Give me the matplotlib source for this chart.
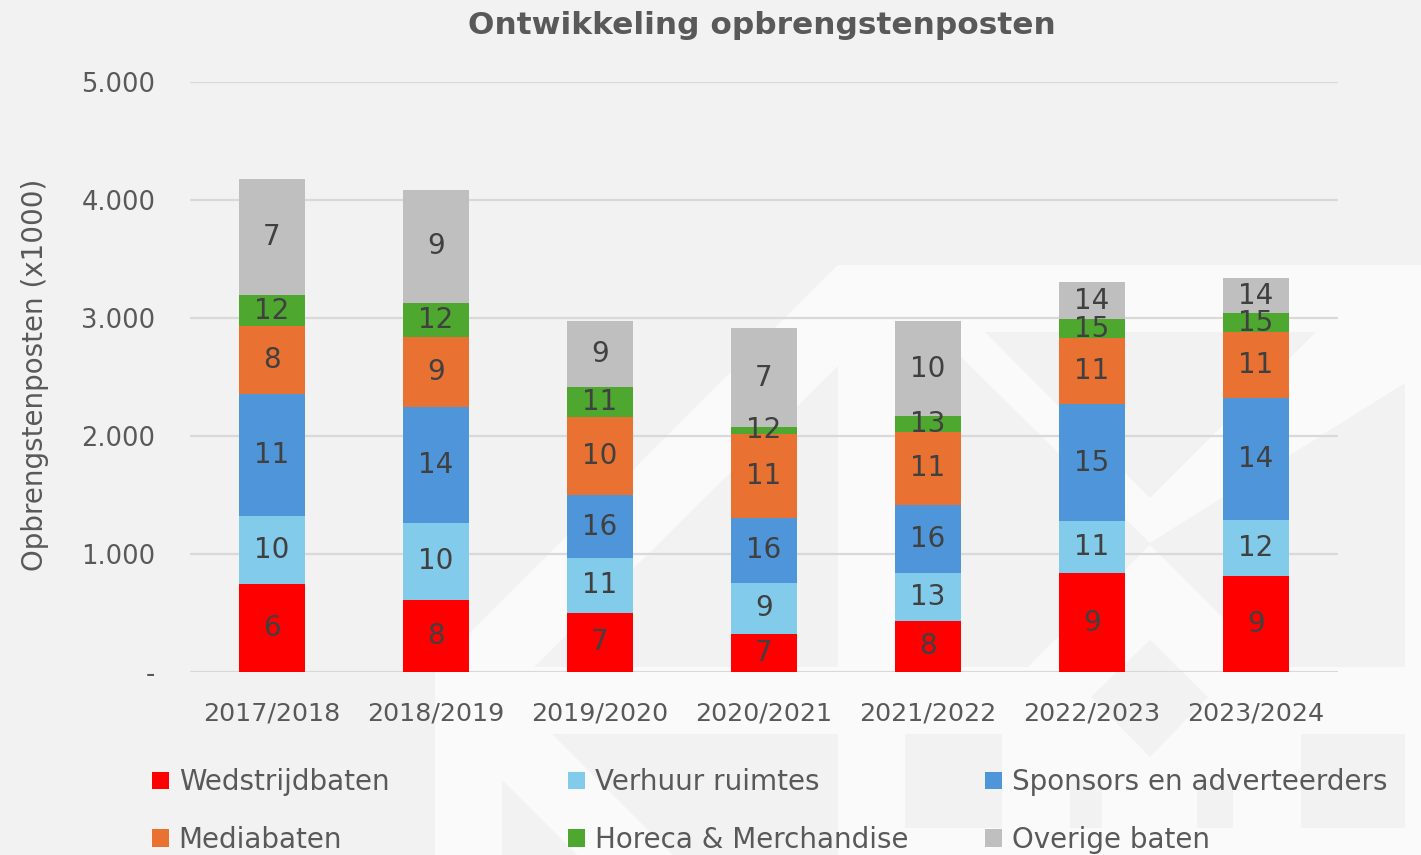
import numpy as np
import matplotlib
matplotlib.use('Agg')
import matplotlib.pyplot as plt
from matplotlib.patches import Polygon, Patch
from matplotlib.ticker import FuncFormatter

W, H = 1421, 855

seasons = ['2017/2018', '2018/2019', '2019/2020', '2020/2021',
           '2021/2022', '2022/2023', '2023/2024']

# bedragen (x1000)
wedstrijd = [742, 612, 504, 319, 433, 837, 814]
verhuur = [581, 650, 464, 439, 404, 441, 472]
sponsors = [1035, 983, 528, 548, 582, 989, 1032]
media = [577, 598, 661, 713, 619, 560, 560]
horeca = [256, 285, 260, 56, 131, 164, 161]
overig = [987, 957, 560, 837, 805, 311, 300]

# rangnummers in de balken
rank_wedstrijd = [6, 8, 7, 7, 8, 9, 9]
rank_verhuur = [10, 10, 11, 9, 13, 11, 12]
rank_sponsors = [11, 14, 16, 16, 16, 15, 14]
rank_media = [8, 9, 10, 11, 11, 11, 11]
rank_horeca = [12, 12, 11, 12, 13, 15, 15]
rank_overig = [7, 9, 9, 7, 10, 14, 14]

names = ['Wedstrijdbaten', 'Verhuur ruimtes', 'Sponsors en adverteerders',
         'Mediabaten', 'Horeca & Merchandise', 'Overige baten']
colors = ['#ff0000', '#83cbeb', '#4e95d9', '#e97132', '#4ea72e', '#bfbfbf']

series = [wedstrijd, verhuur, sponsors, media, horeca, overig]
ranks = [rank_wedstrijd, rank_verhuur, rank_sponsors, rank_media,
         rank_horeca, rank_overig]

txt = '#595959'
bg = '#f2f2f2'
light = '#fafafa'

fig = plt.figure(figsize=(W / 100, H / 100), dpi=100, facecolor=bg)


def px(points):
    return [(x / W, 1 - y / H) for x, y in points]


def shape(points, color):
    fig.add_artist(Polygon(px(points), closed=True, facecolor=color,
                           edgecolor='none', transform=fig.transFigure,
                           zorder=-5))


# watermerk (logo op de achtergrond)
shape([(436, 667), (838, 265), (838, 366), (534, 667)], light)
shape([(838, 265), (1421, 265), (1421, 332), (838, 332)], light)
shape([(838, 332), (961, 332), (961, 667), (838, 667)], light)
shape([(1405, 332), (1421, 332), (1421, 667), (1405, 667)], light)
shape([(961, 332), (985, 332), (1150, 498), (1316, 332), (1405, 332),
       (1405, 383), (1150, 543), (961, 357)], light)
shape([(1028, 667), (1150, 545), (1272, 667)], light)
shape([(435, 667), (1421, 667), (1421, 855), (435, 855)], light)
shape([(1150, 640), (1208, 697), (1150, 757), (1091, 697)], bg)
shape([(552, 734), (838, 734), (838, 855), (673, 855)], bg)
shape([(502, 780), (502, 855), (577, 855)], bg)
shape([(905, 734), (1002, 734), (1002, 828), (905, 828)], bg)
shape([(1070, 780), (1102, 780), (1102, 828), (1070, 828)], bg)
shape([(1197, 780), (1233, 780), (1233, 828), (1197, 828)], bg)
shape([(1301, 734), (1405, 734), (1405, 828), (1301, 828)], bg)

ax = fig.add_axes([190 / W, (H - 672) / H, 1148 / W, 590 / H])
ax.set_facecolor('none')

x = np.arange(len(seasons))
bottom = np.zeros(len(seasons))
for vals, rk, col, name in zip(series, ranks, colors, names):
    vals = np.array(vals, dtype=float)
    ax.bar(x, vals, 0.4, bottom=bottom, color=col, zorder=3, label=name)
    for i in range(len(seasons)):
        ax.text(x[i], bottom[i] + vals[i] / 2, str(rk[i]), ha='center',
                va='center', fontsize=20, color='#404040', zorder=4)
    bottom += vals

ax.set_xlim(-0.5, len(seasons) - 0.5)
ax.set_ylim(0, 5000)
ax.set_yticks(np.arange(0, 5001, 1000))
ax.yaxis.set_major_formatter(FuncFormatter(
    lambda v, p: '-' if v == 0 else f'{v:,.0f}'.replace(',', '.')))
ax.set_xticks(x)
ax.set_xticklabels(seasons)
ax.grid(axis='y', color='#d9d9d9', linewidth=1.6, zorder=0)
ax.set_axisbelow(True)
for s in ax.spines.values():
    s.set_visible(False)
ax.tick_params(axis='y', length=0, pad=25, labelsize=18.5, labelcolor=txt)
ax.tick_params(axis='x', length=0, pad=21, labelsize=18.3, labelcolor=txt)

fig.text(35 / W, 1 - 375 / H, 'Opbrengstenposten (x1000)', rotation=90,
         ha='center', va='center', fontsize=20, color=txt)
fig.text(762 / W, 1 - 25 / H, 'Ontwikkeling opbrengstenposten',
         ha='center', va='center', fontsize=22.5, fontweight='bold', color=txt)

# legenda in drie kolommen
col_x = [152, 568, 985]
for c in range(3):
    idx = [c, c + 3]
    handles = [Patch(facecolor=colors[i], edgecolor='none') for i in idx]
    leg = fig.legend(handles, [names[i] for i in idx], loc='center left',
                     bbox_to_anchor=(col_x[c] / W, 1 - 811 / H),
                     frameon=False, fontsize=20, handlelength=0.6,
                     handleheight=0.6, handletextpad=0.36, labelspacing=1.05,
                     borderpad=0, borderaxespad=0)
    for t in leg.get_texts():
        t.set_color(txt)

fig.savefig('out.png', dpi=100, facecolor=bg)
